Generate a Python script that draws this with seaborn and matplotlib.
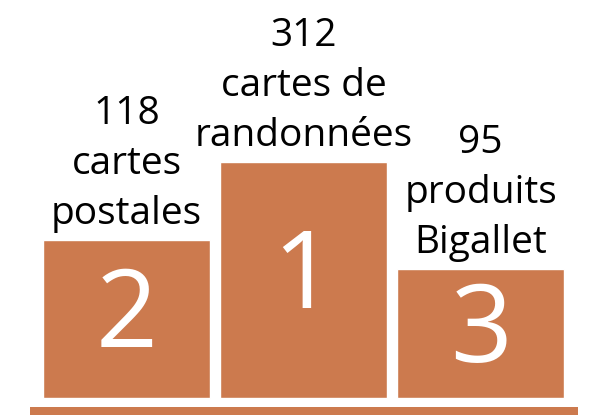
import matplotlib
matplotlib.use("Agg")
import matplotlib.pyplot as plt
import seaborn as sns
import pandas as pd

# podium order left to right: 2nd, 1st, 3rd
ranks = ["2", "1", "3"]
counts = [118, 312, 95]
labels = ["cartes\npostales", "cartes de\nrandonnées", "produits\nBigallet"]
step_heights = [158, 236, 129]  # illustrative podium step heights

df = pd.DataFrame({"rank": ranks, "step": step_heights})

sns.set_theme(style="white")
plt.rcParams["font.family"] = ["Open Sans", "DejaVu Sans"]

podium_color = "#CC7A4E"

fig = plt.figure(figsize=(5.98, 4.15), dpi=100)
ax = fig.add_axes([30 / 598, 0, 548 / 598, 1])

sns.barplot(data=df, x="rank", y="step", order=ranks, color=podium_color,
            width=0.94, saturation=1, ax=ax)

ax.set_xlim(-0.545, 2.55)
ax.set_ylim(-17, 398)

# base of the podium
ax.axhspan(-17, -8.5, color=podium_color, lw=0)

for i, (r, n, lab, h) in enumerate(zip(ranks, counts, labels, step_heights)):
    ax.text(i, h / 2, r, color="white", fontsize=78, fontweight="normal",
            ha="center", va="center")
    ax.annotate(f"{n}\n{lab}", xy=(i, h), xytext=(0, 5), textcoords="offset points",
                ha="center", va="bottom", fontsize=28, linespacing=1.42,
                color="black")

ax.set_axis_off()
fig.savefig("out.png", dpi=100, facecolor="white")
